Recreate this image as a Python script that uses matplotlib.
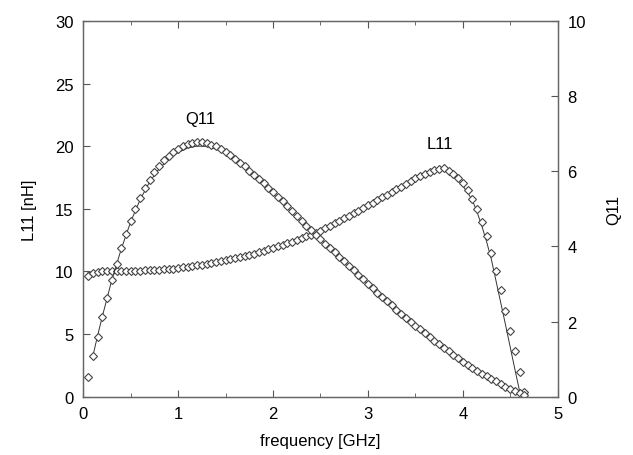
import numpy as np
import matplotlib
matplotlib.use("Agg")
import matplotlib.pyplot as plt
from matplotlib.ticker import MultipleLocator

plt.rcParams['font.family'] = ['Liberation Sans', 'DejaVu Sans']

# measured points, every 0.05 GHz
freq_meas = [round(0.05 * k, 2) for k in range(1, 94)]
L_meas = [9.65, 9.85, 9.97, 10.00, 10.00, 10.00, 10.01, 10.02, 10.03, 10.04,
          10.05, 10.06, 10.08, 10.10, 10.12, 10.14, 10.17, 10.20, 10.23, 10.28,
          10.32, 10.37, 10.42, 10.48, 10.54, 10.60, 10.67, 10.74, 10.82, 10.90,
          10.98, 11.06, 11.15, 11.24, 11.33, 11.43, 11.53, 11.64, 11.76, 11.88,
          12.00, 12.13, 12.26, 12.39, 12.52, 12.66, 12.80, 12.94, 13.08, 13.25,
          13.45, 13.65, 13.85, 14.05, 14.25, 14.45, 14.65, 14.86, 15.07, 15.28,
          15.49, 15.70, 15.91, 16.12, 16.34, 16.56, 16.78, 17.00, 17.22, 17.43,
          17.63, 17.82, 17.98, 18.12, 18.22, 18.24, 18.05, 17.75, 17.45, 17.10,
          16.50, 15.75, 14.95, 13.95, 12.80, 11.45, 10.04, 8.53, 6.87, 5.23,
          3.64, 1.95, 0.40]
Q_meas = [0.53, 1.07, 1.60, 2.12, 2.62, 3.10, 3.53, 3.95, 4.32, 4.68,
          5.00, 5.29, 5.55, 5.77, 5.97, 6.14, 6.29, 6.41, 6.52, 6.60,
          6.67, 6.72, 6.76, 6.77, 6.77, 6.75, 6.71, 6.66, 6.59, 6.51,
          6.42, 6.33, 6.23, 6.13, 6.02, 5.91, 5.80, 5.68, 5.56, 5.44,
          5.32, 5.20, 5.07, 4.94, 4.81, 4.68, 4.55, 4.43, 4.31, 4.19,
          4.07, 3.95, 3.84, 3.72, 3.60, 3.48, 3.37, 3.24, 3.12, 3.00,
          2.88, 2.76, 2.65, 2.54, 2.43, 2.32, 2.21, 2.10, 1.99, 1.89,
          1.79, 1.69, 1.59, 1.49, 1.40, 1.30, 1.21, 1.12, 1.04, 0.92,
          0.84, 0.76, 0.68, 0.61, 0.54, 0.48, 0.41, 0.34, 0.27, 0.21,
          0.15, 0.09, 0.04]

# model curves
freq_L_model = [0.05, 0.1, 0.2, 0.3, 0.4, 0.5, 0.6, 0.7, 0.8, 0.9, 1.0, 1.1, 1.2,
                1.3, 1.4, 1.5, 1.6, 1.7, 1.8, 1.9, 2.0, 2.1, 2.2, 2.3, 2.4, 2.5,
                2.6, 2.7, 2.8, 2.9, 3.0, 3.1, 3.2, 3.3, 3.4, 3.5, 3.6, 3.7, 3.75,
                3.8, 3.85, 3.9, 3.95, 4.0, 4.05, 4.1, 4.15, 4.2, 4.25, 4.3, 4.35,
                4.4, 4.45, 4.5, 4.55, 4.61]
L_model = [9.90, 9.95, 10.0, 10.0, 10.02, 10.04, 10.06, 10.10, 10.14, 10.20, 10.27,
           10.36, 10.47, 10.59, 10.73, 10.89, 11.05, 11.23, 11.42, 11.63, 11.87,
           12.12, 12.38, 12.65, 12.93, 13.22, 13.62, 14.02, 14.42, 14.83, 15.25,
           15.67, 16.09, 16.52, 16.96, 17.38, 17.76, 18.06, 18.15, 18.12, 17.98,
           17.70, 17.30, 16.85, 16.30, 15.70, 14.75, 13.65, 12.40, 11.00, 9.25,
           7.50, 5.75, 3.95, 2.15, 0.05]
freq_Q_model = [0.1, 0.15, 0.2, 0.3, 0.4, 0.5, 0.6, 0.7, 0.8, 0.9, 1.0, 1.1, 1.2,
                1.3, 1.4, 1.5, 1.6, 1.7, 1.8, 1.9, 2.0, 2.1, 2.2, 2.3, 2.4, 2.5,
                2.6, 2.7, 2.8, 2.9, 3.0, 3.1, 3.2, 3.3, 3.4, 3.5, 3.6, 3.7, 3.8,
                3.9, 4.0, 4.1, 4.2, 4.3, 4.4, 4.5, 4.6, 4.62]
Q_model = [1.07, 1.62, 2.13, 3.10, 3.93, 4.66, 5.25, 5.72, 6.07, 6.33, 6.50, 6.62,
           6.67, 6.66, 6.59, 6.47, 6.30, 6.11, 5.89, 5.65, 5.40, 5.15, 4.89, 4.64,
           4.42, 4.19, 3.95, 3.72, 3.48, 3.24, 3.00, 2.76, 2.54, 2.32, 2.10, 1.89,
           1.69, 1.49, 1.30, 1.12, 0.93, 0.76, 0.60, 0.45, 0.31, 0.18, 0.04, 0.0]

fig = plt.figure(figsize=(6.33, 4.56), dpi=100)
ax = fig.add_axes([0.1316, 0.1279, 0.7494, 0.8239])
ax2 = ax.twinx()

mk = dict(marker='D', markersize=3.6, markerfacecolor='white',
          markeredgecolor='#444444', markeredgewidth=0.8, linestyle='none')

ax.plot(freq_L_model, L_model, color='#333333', lw=0.7)
ax2.plot(freq_Q_model, Q_model, color='#333333', lw=0.7)
ax.plot(freq_meas, L_meas, **mk)
ax2.plot(freq_meas, Q_meas, **mk)

ax.set_xlim(0, 5)
ax.set_ylim(0, 30)
ax2.set_ylim(0, 10)

ax.xaxis.set_major_locator(MultipleLocator(1))
ax.xaxis.set_minor_locator(MultipleLocator(0.5))
ax.yaxis.set_major_locator(MultipleLocator(5))
ax2.yaxis.set_major_locator(MultipleLocator(2))

ax.tick_params(which='both', direction='in', top=True, right=False,
               labelsize=12, color='#555555', pad=7)
ax.tick_params(which='major', length=5)
ax.tick_params(which='minor', length=3)
ax2.tick_params(direction='in', length=5, labelsize=12, color='#555555', pad=7)

for a in (ax, ax2):
    for s in a.spines.values():
        s.set_color('#666666')
        s.set_linewidth(0.9)

ax.set_xlabel('frequency [GHz]', fontsize=12, labelpad=8)
ax.set_ylabel('L11 [nH]', fontsize=12, labelpad=13)
ax2.set_ylabel('Q11', fontsize=12, labelpad=15)

ax.text(1.23, 22.2, 'Q11', fontsize=12, ha='center', va='center')
ax.text(3.76, 20.2, 'L11', fontsize=12, ha='center', va='center')

fig.savefig('out.png', dpi=100)
